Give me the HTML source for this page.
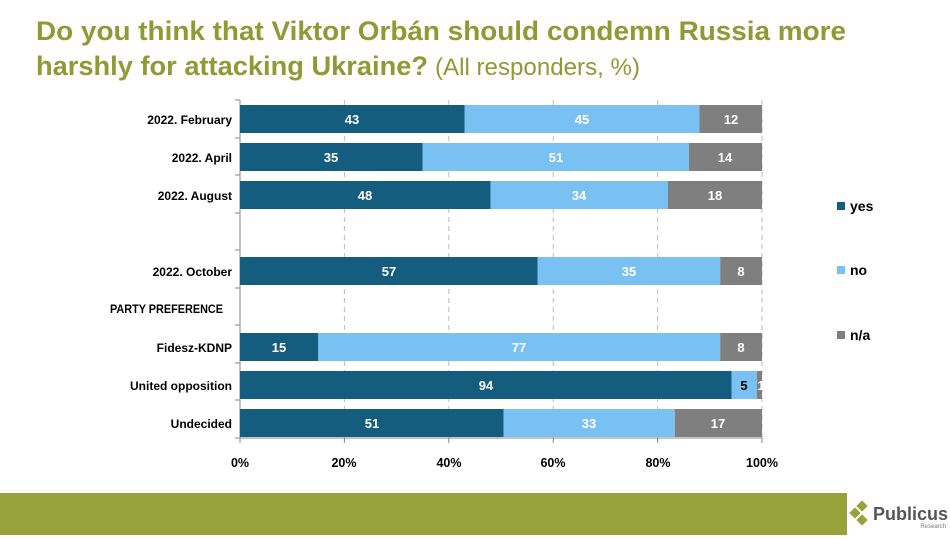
<!DOCTYPE html>
<html><head><meta charset="utf-8"><style>
body{margin:0;width:950px;height:535px;overflow:hidden;background:#fff;font-family:"Liberation Sans","DejaVu Sans",sans-serif}
</style></head><body>
<svg width="950" height="535" xmlns="http://www.w3.org/2000/svg" font-family="Liberation Sans, DejaVu Sans, sans-serif">
<text x="36" y="40" font-size="27" font-weight="bold" fill="#8f9a35" textLength="810" lengthAdjust="spacingAndGlyphs">Do you think that Viktor Orbán should condemn Russia more</text>
<text x="36" y="75" font-size="27" font-weight="bold" fill="#8f9a35" textLength="392" lengthAdjust="spacingAndGlyphs">harshly for attacking Ukraine?</text>
<text x="435" y="75" font-size="24" fill="#8f9a35" textLength="205" lengthAdjust="spacingAndGlyphs">(All responders, %)</text>
<g stroke="#bbb" stroke-dasharray="5,4">
<line x1="344.4" y1="100" x2="344.4" y2="438"/><line x1="448.8" y1="100" x2="448.8" y2="438"/><line x1="553.2" y1="100" x2="553.2" y2="438"/><line x1="657.6" y1="100" x2="657.6" y2="438"/><line x1="762" y1="100" x2="762" y2="438"/>
</g>
<g stroke="#888">
<line x1="240" y1="100" x2="240" y2="438"/><line x1="240" y1="438" x2="762" y2="438"/>
<line x1="235" y1="100" x2="240" y2="100"/><line x1="235" y1="138" x2="240" y2="138"/><line x1="235" y1="175" x2="240" y2="175"/><line x1="235" y1="213" x2="240" y2="213"/><line x1="235" y1="250" x2="240" y2="250"/><line x1="235" y1="288" x2="240" y2="288"/><line x1="235" y1="325" x2="240" y2="325"/><line x1="235" y1="363" x2="240" y2="363"/><line x1="235" y1="400" x2="240" y2="400"/><line x1="235" y1="438" x2="240" y2="438"/>
<line x1="240" y1="438" x2="240" y2="443"/><line x1="344.4" y1="438" x2="344.4" y2="443"/><line x1="448.8" y1="438" x2="448.8" y2="443"/><line x1="553.2" y1="438" x2="553.2" y2="443"/><line x1="657.6" y1="438" x2="657.6" y2="443"/><line x1="762" y1="438" x2="762" y2="443"/>
</g>
<g font-size="13" font-weight="bold" fill="#fff" text-anchor="middle">
<rect x="240" y="105" width="224.5" height="28" fill="#155d7e"/><rect x="464.5" y="105" width="234.9" height="28" fill="#7ac1f3"/><rect x="699.4" y="105" width="62.6" height="28" fill="#7f7f7f"/>
<text x="352" y="124">43</text><text x="582" y="124">45</text><text x="731" y="124">12</text>
<rect x="240" y="143" width="182.7" height="28" fill="#155d7e"/><rect x="422.7" y="143" width="266.2" height="28" fill="#7ac1f3"/><rect x="688.9" y="143" width="73.1" height="28" fill="#7f7f7f"/>
<text x="331" y="162">35</text><text x="556" y="162">51</text><text x="725" y="162">14</text>
<rect x="240" y="181" width="250.6" height="28" fill="#155d7e"/><rect x="490.6" y="181" width="177.5" height="28" fill="#7ac1f3"/><rect x="668" y="181" width="94" height="28" fill="#7f7f7f"/>
<text x="365" y="200">48</text><text x="579" y="200">34</text><text x="715" y="200">18</text>
<rect x="240" y="257" width="297.5" height="28" fill="#155d7e"/><rect x="537.5" y="257" width="182.7" height="28" fill="#7ac1f3"/><rect x="720.2" y="257" width="41.8" height="28" fill="#7f7f7f"/>
<text x="389" y="276">57</text><text x="629" y="276">35</text><text x="741" y="276">8</text>
<rect x="240" y="333" width="78.3" height="28" fill="#155d7e"/><rect x="318.3" y="333" width="401.9" height="28" fill="#7ac1f3"/><rect x="720.2" y="333" width="41.8" height="28" fill="#7f7f7f"/>
<text x="279" y="352">15</text><text x="519" y="352">77</text><text x="741" y="352">8</text>
<rect x="240" y="371" width="491.7" height="28" fill="#155d7e"/><rect x="731.7" y="371" width="25.1" height="28" fill="#7ac1f3"/><rect x="756.8" y="371" width="5.2" height="28" fill="#7f7f7f"/>
<text x="486" y="390">94</text><text x="744" y="390" fill="#000">5</text><text x="761" y="390">1</text>
<rect x="240" y="409" width="263.6" height="28" fill="#155d7e"/><rect x="503.6" y="409" width="171.2" height="28" fill="#7ac1f3"/><rect x="674.8" y="409" width="87.2" height="28" fill="#7f7f7f"/>
<text x="372" y="428">51</text><text x="589" y="428">33</text><text x="718" y="428">17</text>
</g>
<g font-size="12" font-weight="bold" fill="#000" text-anchor="end">
<text x="232" y="124">2022. February</text><text x="232" y="162">2022. April</text><text x="232" y="200">2022. August</text><text x="232" y="276">2022. October</text><text x="223" y="313" textLength="113" lengthAdjust="spacingAndGlyphs">PARTY PREFERENCE</text><text x="232" y="352">Fidesz-KDNP</text><text x="232" y="390">United opposition</text><text x="232" y="428">Undecided</text>
</g>
<g font-size="12.5" font-weight="bold" fill="#000" text-anchor="middle">
<text x="240" y="467">0%</text><text x="344" y="467">20%</text><text x="449" y="467">40%</text><text x="553" y="467">60%</text><text x="658" y="467">80%</text><text x="762" y="467">100%</text>
</g>
<g font-size="14" font-weight="bold">
<rect x="837" y="202" width="8" height="8" fill="#155d7e"/><text x="850" y="211">yes</text>
<rect x="837" y="266" width="8" height="8" fill="#7ac1f3"/><text x="850" y="275">no</text>
<rect x="837" y="331" width="8" height="8" fill="#7f7f7f"/><text x="850" y="340">n/a</text>
</g>
<rect x="0" y="493" width="847" height="42" fill="#98a23a"/>
<g fill="#98a23a"><rect x="858" y="502" width="8" height="8" transform="rotate(45 862 506)"/><rect x="851" y="509" width="8" height="8" transform="rotate(45 855 513)"/><rect x="858" y="516" width="8" height="8" transform="rotate(45 862 520)"/></g>
<text x="873" y="520" font-size="18" font-weight="bold" fill="#555">Publicus</text>
<text x="946" y="528" font-size="6" fill="#777" text-anchor="end">Research</text>
</svg>
</body></html>
